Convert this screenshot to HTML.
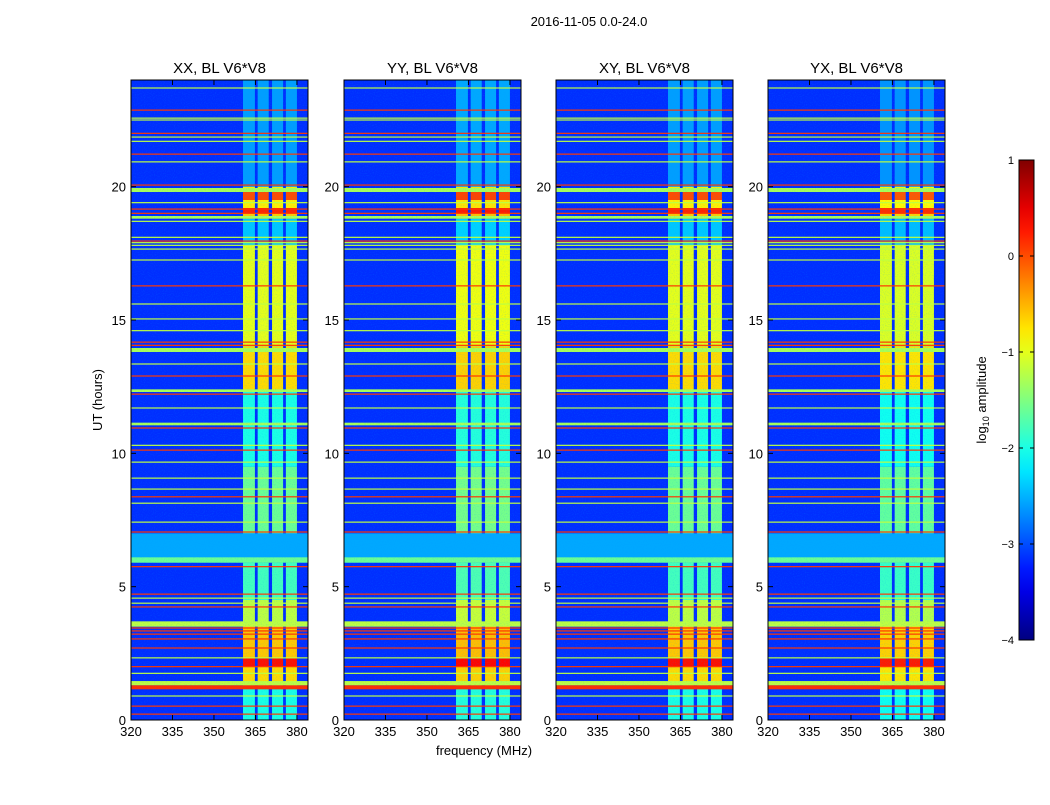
<!DOCTYPE html>
<html><head><meta charset="utf-8"><style>
body{margin:0;background:#fff;}
svg text{font-family:"Liberation Sans",sans-serif;fill:#000;}
</style></head><body>
<svg id="fig" width="1050" height="800" xmlns="http://www.w3.org/2000/svg">
<defs>
<filter id="noise" x="0" y="0" width="100%" height="100%">
<feTurbulence type="fractalNoise" baseFrequency="0.9" numOctaves="1" seed="3" result="n"/>
<feColorMatrix type="matrix" values="0 0 0 0 0  0 0 0 0 0.3  0 0 0 0 1  0 0 0 -1.4 0.75"/>
</filter>
<linearGradient id="cbgrad" x1="0" y1="1" x2="0" y2="0"></linearGradient>
</defs>
<text x="589" y="26" font-size="13" text-anchor="middle">2016-11-05 0.0-24.0</text>
<text transform="translate(102,400) rotate(-90)" font-size="13" text-anchor="middle">UT (hours)</text>
<text x="484" y="755" font-size="13" text-anchor="middle">frequency (MHz)</text>
<g id="panels"></g>
<g id="cbar"></g>
</svg>
<script>
// ---- data ----
const panelTitles = ["XX, BL V6*V8","YY, BL V6*V8","XY, BL V6*V8","YX, BL V6*V8"];
const panelOffsets = [0, 0.05, 0, -0.05];
const xTicks = [320,335,350,365,380];
const yTicks = [0,5,10,15,20];
const cbTicks = [-4,-3,-2,-1,0,1];
const background = -3.15;
// wide horizontal bands across full frequency range: [startHour, endHour, log10amp]
const fullBands = [[5.9,7.0,-2.55],[5.9,6.1,-1.6],[3.5,3.7,-1.2],[1.3,1.46,-1.2],[1.15,1.3,0.15],
  [19.8,19.95,-1.3],[18.8,18.9,-1.3],[13.8,13.95,-1.3],[12.3,12.4,-1.3],[11.05,11.15,-1.3]];
// thin RFI lines: hour, log10amp
const lineHours = [23.7,22.87,22.57,22.5,22.0,21.86,21.7,21.22,20.93,20.06,19.4,19.16,19.0,18.7,18.1,17.96,17.9,17.8,17.66,17.25,16.28,15.6,15.04,14.6,14.17,14.05,13.35,12.9,12.22,11.7,10.95,10.3,10.12,9.67,9.07,8.66,8.37,8.13,7.42,7.05,5.75,4.72,4.57,4.38,4.24,3.45,3.34,3.22,3.04,2.7,2.33,2.0,1.75,0.9,0.52,0.22];
const lineLevels = [-1.2,0.1,-1.2,-1.2,0.1,-1.2,-1.2,0.1,-1.2,0.1,-1.2,0.1,0.1,-1.2,-1.2,0.1,-1.2,-1.2,-1.2,-1.2,0.1,-1.2,-1.2,-1.2,0.1,0.1,-1.2,0.1,0.1,-1.2,0.1,-1.2,0.1,-1.2,-1.2,-1.2,0.1,-1.2,-1.2,0.1,0.1,0.1,-1.2,-1.2,0.1,0.1,0.1,0.1,0.1,0.1,-1.2,0.1,-1.2,-1.2,0.1,0.1];
// signal channels in MHz
const chanStart = [360.5,365.8,371,376];
const chanEnd = [364.8,369.8,375,380];
// time segments of channel intensity: start, end, log10amp
const segStart = [0,1.3,2.0,2.33,3.6,4.5,7.0,9.5,12.3,14.0,17.8,18.8,19.0,19.2,19.5,19.8,20.0];
const segEnd   = [1.3,2.0,2.33,3.6,4.5,7.0,9.5,12.3,14.0,17.8,18.8,19.0,19.2,19.5,19.8,20.0,24.0];
const segLevel = [-2.0,-0.7,0.3,-0.6,-1.2,-1.8,-1.6,-2.0,-0.7,-1.0,-2.4,-0.6,0.2,-0.8,0.0,-0.8,-2.6];

// ---- helpers ----
const NS="http://www.w3.org/2000/svg";
function jet(v){const t=Math.max(0,Math.min(1,(v+4)/5));const c=x=>Math.round(255*Math.max(0,Math.min(1,1.5-Math.abs(4*t-x))));return `rgb(${c(3)},${c(2)},${c(1)})`;}
function mk(tag,attrs,parent){const e=document.createElementNS(NS,tag);for(const k in attrs)e.setAttribute(k,attrs[k]);parent.appendChild(e);return e;}
const panelX=[131,344,556,768], PW=177, PT=80, PB=720;
const fMin=320,fMax=384,hMax=24;
const panels=document.getElementById('panels');
panelX.forEach((x0,p)=>{
  const sx=f=>x0+(f-fMin)/(fMax-fMin)*PW;
  const sy=h=>PB-h/hMax*(PB-PT);
  const g=mk('g',{},panels);
  
  
  const bg=mk('rect',{x:x0,y:PT,width:PW,height:PB-PT,fill:jet(background)},g);
  
  
  for(let c=0;c<chanStart.length;c++)for(let s=0;s<segStart.length;s++){
    const r=mk('rect',{x:sx(chanStart[c]),y:sy(segEnd[s]),width:sx(chanEnd[c])-sx(chanStart[c]),height:sy(segStart[s])-sy(segEnd[s]),fill:jet(segLevel[s]+panelOffsets[p])},g);
    
    
  }
  fullBands.forEach(b=>{
    const r=mk('rect',{x:x0,y:sy(b[1]),width:PW,height:sy(b[0])-sy(b[1]),fill:jet(b[2])},g);
    
    
  });
  const nz=mk('rect',{x:x0,y:PT,width:PW,height:PB-PT,fill:'#fff',filter:'url(#noise)',opacity:0.35},g);
  
  
  lineHours.forEach((h,i)=>{
    const r=mk('rect',{x:x0,y:sy(h)-0.6,width:PW,height:1.2,fill:jet(lineLevels[i])},g);
    
    
  });
  const fr=mk('rect',{x:x0,y:PT,width:PW,height:PB-PT,fill:'none',stroke:'#000','stroke-width':1},g);
  
  
  xTicks.forEach(f=>{
    const X=sx(f);
    mk('line',{x1:X,x2:X,y1:PB,y2:PB-5,stroke:'#000'},g);
    mk('line',{x1:X,x2:X,y1:PT,y2:PT+5,stroke:'#000'},g);
    const t=mk('text',{x:X,y:PB+16,'font-size':13,'text-anchor':'middle'},g);
    t.textContent=f;
    
    
  });
  yTicks.forEach(h=>{
    const Y=sy(h);
    mk('line',{x1:x0,x2:x0+5,y1:Y,y2:Y,stroke:'#000'},g);
    mk('line',{x1:x0+PW,x2:x0+PW-5,y1:Y,y2:Y,stroke:'#000'},g);
    const t=mk('text',{x:x0-5,y:Y+5,'font-size':13,'text-anchor':'end'},g);
    t.textContent=h;
    
    
  });
  const tt=mk('text',{x:x0+PW/2,y:73,'font-size':15,'text-anchor':'middle'},g);
  tt.textContent=panelTitles[p];
  
  
});
// colorbar
const grad=document.getElementById('cbgrad');
for(let i=0;i<=20;i++){mk('stop',{offset:(i/20),'stop-color':jet(-4+5*i/20)},grad);}
const cb=document.getElementById('cbar');
const CX=1019,CW=15,CT=160,CBm=640;
const cr=mk('rect',{x:CX,y:CT,width:CW,height:CBm-CT,fill:'url(#cbgrad)',stroke:'#000'},cb);


cbTicks.forEach(v=>{
  const Y=CBm-(v+4)/5*(CBm-CT);
  mk('line',{x1:CX,x2:CX+4,y1:Y,y2:Y,stroke:'#000'},cb);
  mk('line',{x1:CX+CW,x2:CX+CW-4,y1:Y,y2:Y,stroke:'#000'},cb);
  const t=mk('text',{x:CX-5,y:Y+4,'font-size':11,'text-anchor':'end'},cb);
  t.textContent=v<0?'\u2212'+(-v):String(v);
  
  
});
const cl=mk('text',{transform:'translate(986,400) rotate(-90)','font-size':13,'text-anchor':'middle'},cb);
cl.innerHTML='log<tspan font-size="9" dy="3">10</tspan><tspan dy="-3"> amplitude</tspan>';


</script>
</body></html>
